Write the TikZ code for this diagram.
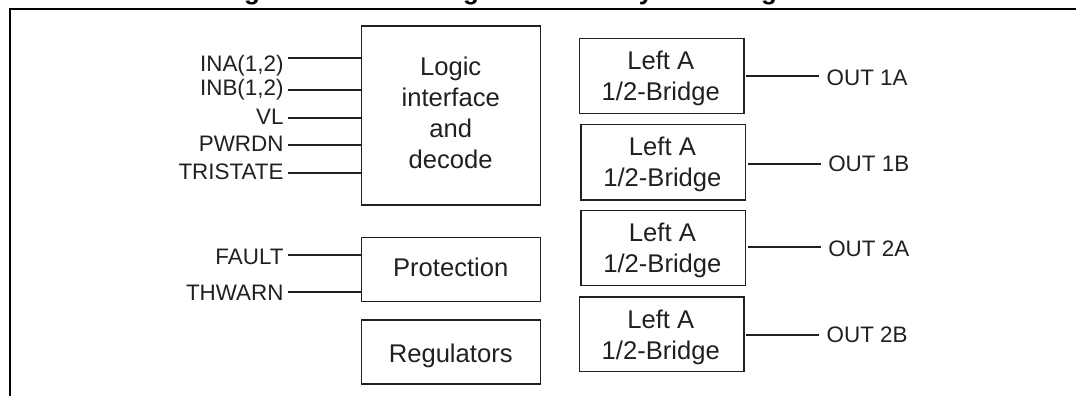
\documentclass[tikz,border=0pt]{standalone}
\usepackage{fontspec}
\setmainfont{Liberation Sans}
\definecolor{ink}{HTML}{231F20}
\tikzset{
  boxnode/.style 2 args={draw=ink,line width=1.05pt,rectangle,inner sep=0pt,outer sep=0pt,minimum width=#1*0.75pt,minimum height=#2*0.75pt},
  boxtext/.style={text=ink,font=\fontsize{19.2}{23.2}\selectfont,align=center,inner sep=0pt,outer sep=0pt,anchor=base},
  sig/.style={text=ink,font=\fontsize{16.8}{20}\selectfont,inner sep=0pt,outer sep=0pt},
  inlabel/.style={sig,anchor=base east},
  outlabel/.style={sig,anchor=base west},
  wire/.style={draw=ink,line width=1.3pt},
  framerule/.style={draw=black,line width=1.5pt},
  titlebit/.style={text=black,font=\fontsize{19.5}{23}\selectfont\bfseries,inner sep=0pt,anchor=base},
}
\begin{document}
\begin{tikzpicture}[x=0.75pt,y=-0.75pt]
\useasboundingbox (0,0) rectangle (1076,396);
\clip (0,0) rectangle (1076,396);
% cut-off title: only descenders are visible
\node[titlebit] (t1) at (252,0) {g};
\node[titlebit] (t2) at (471,0) {g};
\node[titlebit] (t3) at (646,0) {y};
\node[titlebit] (t4) at (769,0) {g};
% frame
\coordinate (fa) at (10,396);
\coordinate (fb) at (10,9);
\coordinate (fc) at (1076,9);
\draw[framerule] (fa) -- (fb) -- (fc);
% boxes
\node[boxnode={179}{179}] (logic) at (451,115.3) {};
\node[boxnode={179}{64}] (prot) at (451,269.3) {};
\node[boxnode={179}{64}] (reg) at (451,352) {};
\node[boxnode={164.7}{75}] (b1) at (661.7,75.8) {};
\node[boxnode={164.7}{75.3}] (b2) at (663.3,162.4) {};
\node[boxnode={164.7}{75}] (b3) at (663.3,248.2) {};
\node[boxnode={164.7}{74.7}] (b4) at (661.7,334.4) {};
% box texts
\node[boxtext] (logict) at (450.7,168.3) {Logic\\interface\\and\\decode};
\node[boxtext] (prott) at (450.7,276.7) {Protection};
\node[boxtext] (regt) at (450.7,362.7) {Regulators};
\node[boxtext] (b1t) at (660.8,100.7) {Left A\\1/2-Bridge};
\node[boxtext] (b2t) at (662.4,186.7) {Left A\\1/2-Bridge};
\node[boxtext] (b3t) at (662.4,272.7) {Left A\\1/2-Bridge};
\node[boxtext] (b4t) at (660.8,359.3) {Left A\\1/2-Bridge};
% input labels
\node[inlabel] (ina) at (283.5,71.7) {INA(1,2)};
\node[inlabel] (inb) at (283.5,95) {INB(1,2)};
\node[inlabel] (vl) at (283.5,124.3) {VL};
\node[inlabel] (pwr) at (283.5,151.7) {PWRDN};
\node[inlabel] (tri) at (283.5,179.3) {TRISTATE};
\node[inlabel] (fault) at (283.5,264) {FAULT};
\node[inlabel] (thw) at (283.5,300.7) {THWARN};
\foreach \n/\y in {ina/58,inb/90,vl/117.7,pwr/145,tri/173}
  \draw[wire] (288,\y) coordinate (\n w) -- (\n w -| logic.west);
\foreach \n/\y in {fault/255,thw/291.7}
  \draw[wire] (287.5,\y) coordinate (\n w) -- (\n w -| prot.west);
% output labels
\node[outlabel] (o1) at (826.7,85) {OUT 1A};
\node[outlabel] (o2) at (828.3,171.7) {OUT 1B};
\node[outlabel] (o3) at (828.3,256) {OUT 2A};
\node[outlabel] (o4) at (826.7,342.7) {OUT 2B};
\foreach \b/\o/\y/\x in {b1/o1/75.7/819,b2/o2/163.7/820.5,b3/o3/247/820.5,b4/o4/334.7/819}
  \draw[wire] (\x,\y) coordinate (\o w) -- ([xshift=1.5pt]\o w -| \b.east);
\end{tikzpicture}
\end{document}
